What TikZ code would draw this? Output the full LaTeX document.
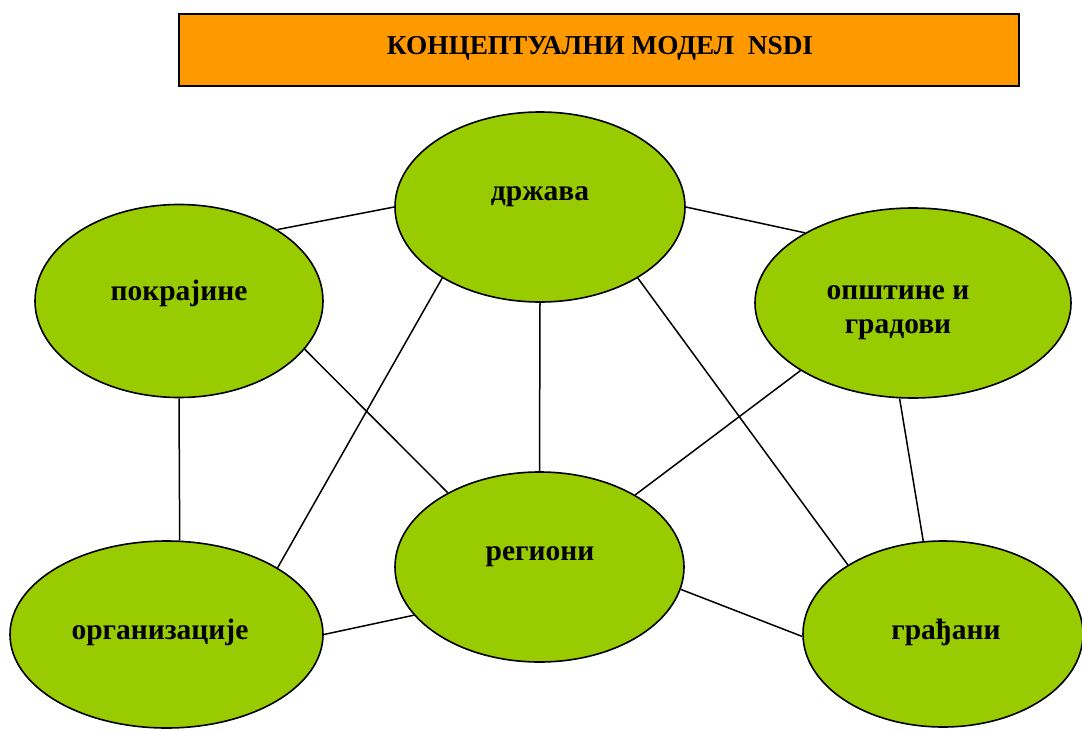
\documentclass[tikz,border=0pt]{standalone}
\usepackage{fontspec}
\setmainfont{Liberation Serif}
\usetikzlibrary{shapes.geometric}
\definecolor{nodegreen}{HTML}{99CC00}
\definecolor{titleorange}{HTML}{FF9900}
\begin{document}
\begin{tikzpicture}[x=1pt,y=-1pt,
  blob/.style={ellipse,draw=black,line width=1.6pt,fill=nodegreen,inner sep=0pt},
  lbl/.style={font=\fontsize{29.5}{34}\selectfont\bfseries,align=center,inner sep=0pt},
  link/.style={draw=black,line width=1.5pt}]
\useasboundingbox (0,0) rectangle (1082,731);
\node[draw=black,line width=1.6pt,fill=titleorange,minimum width=840pt,minimum height=72pt,inner sep=0pt] (title) at (599,50) {};
\node[font=\fontsize{27.3}{31}\selectfont\bfseries,inner sep=0pt] (titletext) at (600,48) {КОНЦЕПТУАЛНИ МОДЕЛ\ \ NSDI};
\node[blob,minimum width=290pt,minimum height=190pt] (d) at (540,207) {};
\node[blob,minimum width=288pt,minimum height=193pt] (p) at (179,301) {};
\node[blob,minimum width=316pt,minimum height=190pt] (o) at (913,303) {};
\node[blob,minimum width=289pt,minimum height=190pt] (r) at (539.5,567) {};
\node[blob,minimum width=313pt,minimum height=187pt] (g) at (166.5,634.5) {};
\node[blob,minimum width=280pt,minimum height=186pt] (c) at (943,634) {};
\node[lbl] (dl) at (540,197) {држава};
\node[lbl] (pl) at (179,293) {покрајине};
\node[lbl] (ol) at (898,313) {општине и\\градови};
\node[lbl] (rl) at (540,557) {региони};
\node[lbl] (gl) at (160,632) {организације};
\node[lbl] (cl) at (946,632) {грађани};
\draw[link] (p.36.5) -- (d.180);
\draw[link] (d.0) -- (o.147.1);
\draw[link] (p.270) -- (g.82.4);
\draw[link] (p.-21.2) -- (r.141.9);
\draw[link] (d.216.1) -- (g.31.9);
\draw[link] (d.270) -- (r.90);
\draw[link] (d.-36.1) -- (c.144.2);
\draw[link] (o.211.9) -- (r.37.9);
\draw[link] (o.262.2) -- (c.102.7);
\draw[link] (g.0) -- (r.201.1);
\draw[link] (r.-9) -- (c.181);
\end{tikzpicture}
\end{document}
